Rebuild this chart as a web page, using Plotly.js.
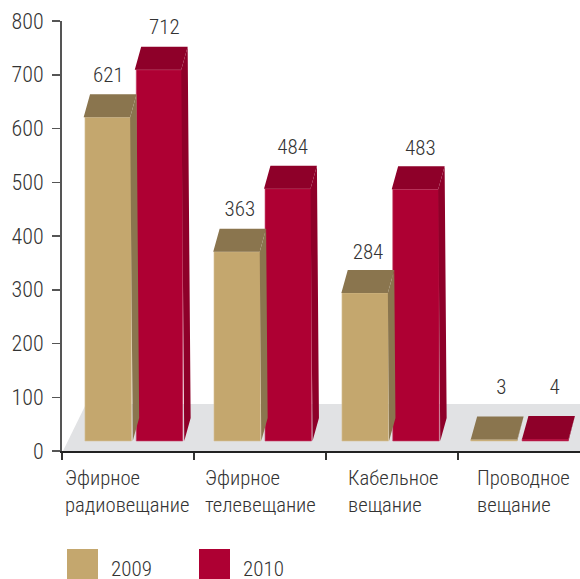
<!DOCTYPE html>
<html><head><meta charset="utf-8">
<script src="https://cdn.plot.ly/plotly-3.0.1.min.js"></script>
<style>html,body{margin:0;padding:0;background:#fff;overflow:hidden}#c{width:580px;height:579px}</style>
</head><body><div id="c"></div>
<script>
// ---- data ----
const categories = ['Эфирное<br>радиовещание','Эфирное<br>телевещание','Кабельное<br>вещание','Проводное<br>вещание'];
const years = ['2009','2010'];
const values2009 = [621,363,284,3];
const values2010 = [712,484,483,4];
const tickValues = [0,100,200,300,400,500,600,700,800];
// ---- styling and geometry ----
const colors = {front:['#C4A76E','#AE0033'],edge:['#D6C299','#C8476B'],dark:['#8A754E','#8E0029'],floor:'#E1E2E4',text:'#333333'};
const pxX = 1/132, pxY = 800/430;
const FONT = '"Roboto Condensed","Liberation Sans",sans-serif';
const tan0 = [109.5,238,365.8,494].map(p=>(p-62)*pxX);
const red0 = [161,289.3,417,545.3].map(p=>(p-62)*pxX);
// The bars stand on a floor above the axis zero, on a slightly compressed scale of their own (second, hidden y axis).
const floorV = 18.6, barScale = 0.97;
const y2Range = [-floorV/barScale,(800-floorV)/barScale];
const pxY2 = pxY/barScale;
const barW = 46.5*pxX, dx = 6.4*pxX, dy = 23*pxY2, lean = 2.6*pxX/621;
const labelNudgeX = [[-5,-3,-3,1],[0,-1,-1,3]];
const labelGapY = [[17,18,16,28],[18,17,16,27]];
const labelOffsets = [2,10,20.5,17.5];

const traces = [];
[[values2009,tan0],[values2010,red0]].forEach(([vals,base],s)=>{
  traces.push({type:'bar',name:years[s],yaxis:'y2',x:base.map((c,i)=>c-lean*vals[i]/2),y:vals,width:barW,
    marker:{color:colors.front[s],line:{width:0.6,color:colors.edge[s]}},hoverinfo:'skip',showlegend:false});
});
[[values2010,red0,1],[values2009,tan0,0]].forEach(([vals,base,s])=>{
  const topX=[],topY=[],sideX=[],sideY=[];
  vals.forEach((v,i)=>{
    const sh=lean*v, lb=base[i]-barW/2, rb=base[i]+barW/2, lt=lb-sh, rt=rb-sh;
    topX.push(lt,rt,rt+dx,lt+dx,lt,null); topY.push(v,v,v+dy,v+dy,v,null);
    sideX.push(rt,rt+dx,rb+dx,rb,rt,null); sideY.push(v,v+dy,dy,0,v,null);
  });
  const poly=(x,y,c)=>({type:'scatter',mode:'lines',yaxis:'y2',x,y,fill:'toself',fillcolor:c,line:{width:0,color:c},hoverinfo:'skip',showlegend:false});
  traces.push(poly(sideX,sideY,colors.dark[s]),poly(topX,topY,colors.dark[s]));
});
[[values2009,tan0,0],[values2010,red0,1]].forEach(([vals,base,s])=>{
  traces.push({type:'scatter',mode:'text',yaxis:'y2',
    x:vals.map((v,i)=>base[i]-lean*v+dx+labelNudgeX[s][i]*pxX),
    y:vals.map((v,i)=>v+dy+labelGapY[s][i]*pxY2),
    text:vals.map(String),textposition:'middle center',cliponaxis:false,
    textfont:{family:FONT,size:21,color:colors.text,weight:300},hoverinfo:'skip',showlegend:false});
});
const xMax = 518*pxX;
const shapes = [
  {type:'path',layer:'below',xref:'x',yref:'y',fillcolor:colors.floor,line:{width:0},
   path:`M ${1*pxX} 0 L ${24*pxX} ${47*pxY} L ${xMax} ${47*pxY} L ${xMax} 0 Z`},
  {type:'rect',layer:'above',xref:'paper',yref:'paper',x0:5/518,x1:36/518,y0:-98/430,y1:-128/430,fillcolor:colors.front[0],line:{width:0}},
  {type:'rect',layer:'above',xref:'paper',yref:'paper',x0:137/518,x1:168/518,y0:-98/430,y1:-128/430,fillcolor:colors.front[1],line:{width:0}}
];
const annotations = categories.map((c,i)=>({xref:'x',yref:'paper',x:i+labelOffsets[i]*pxX,y:-14/430,yanchor:'top',xanchor:'left',align:'left',
  text:c,showarrow:false,borderpad:0,font:{family:FONT,size:20.7,color:colors.text,weight:300}}));
years.forEach((y,i)=>annotations.push({xref:'paper',yref:'paper',x:(48+i*132)/518,y:-118/430,xanchor:'left',yanchor:'middle',
  text:y,showarrow:false,borderpad:0,font:{family:FONT,size:21,color:colors.text,weight:300}}));
const layout = {
  width:580,height:579,margin:{l:62,r:0,t:21,b:128},paper_bgcolor:'#fff',plot_bgcolor:'rgba(0,0,0,0)',
  barmode:'overlay',showlegend:false,shapes,annotations,
  xaxis:{range:[0,xMax],tickvals:[0,1,2,3],ticktext:['','','',''],ticks:'outside',ticklen:7,tickwidth:1.5,tickcolor:'#333',
    showgrid:false,zeroline:false,showline:true,linecolor:'#222',linewidth:1.5,fixedrange:true},
  yaxis:{range:[0,800],tickvals:tickValues,ticks:'outside',ticklen:8,tickwidth:1.5,tickcolor:'#555',
    showgrid:false,zeroline:false,showline:true,linecolor:'#555',linewidth:2,ticklabelstandoff:4,
    tickfont:{family:FONT,size:22,color:colors.text,weight:300},fixedrange:true},
  yaxis2:{range:y2Range,overlaying:'y',visible:false,fixedrange:true}
};
Plotly.newPlot('c',traces,layout,{displayModeBar:false,staticPlot:true});
</script></body></html>
